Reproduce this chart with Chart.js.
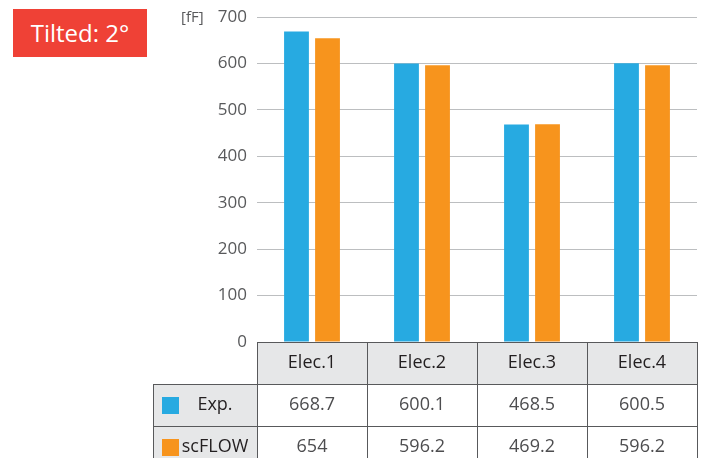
<!DOCTYPE html>
<html>
<head>
<meta charset="utf-8">
<script src="https://cdn.jsdelivr.net/npm/chart.js@4"></script>
<style>
  html, body { margin: 0; padding: 0; background: #fff; }
  #wrap { position: relative; width: 701px; height: 458px; overflow: hidden; }
  #badge {
    position: absolute; left: 13px; top: 9px; width: 134px; height: 48px;
    background: #ef4136; color: #fff; font: 24px "Open Sans", sans-serif;
    line-height: 48px; text-align: center;
  }
</style>
</head>
<body>
<div id="wrap">
  <canvas id="chart1" width="701" height="458"></canvas>
  <div id="badge">Tilted: 2°</div>
</div>
<script>
// =========================== data =================
const categories = ["Elec.1", "Elec.2", "Elec.3", "Elec.4"];
const expValues = [668.7, 600.1, 468.5, 600.5];
const flowValues = [654, 596.2, 469.2, 596.2];
const expLabels = ["668.7", "600.1", "468.5", "600.5"];
const flowLabels = ["654", "596.2", "469.2", "596.2"];
const seriesNames = ["Exp.", "scFLOW"];
const unitLabel = "[fF]";

const blue = "#27aae1";
const orange = "#f7941d";
const font = '"Open Sans", sans-serif';

// draws the data table under the plot + unit label
const tablePlugin = {
  id: "dataTable",
  afterDraw(chart) {
    const ctx = chart.ctx;
    const area = chart.chartArea;
    const x = chart.scales.x;
    const step = (area.right - area.left) / categories.length;
    const top = Math.round(area.bottom);
    const rowH = 42;
    const labLeft = 153;
    const bottom = top + rowH * 3;

    ctx.save();
    // header background
    ctx.fillStyle = "#e6e7e8";
    ctx.fillRect(area.left, top, area.right - area.left, rowH);
    // row label backgrounds
    ctx.fillRect(labLeft, top + rowH, area.left - labLeft, rowH * 2);

    // grid lines
    ctx.strokeStyle = "#58595b";
    ctx.lineWidth = 1;
    ctx.beginPath();
    ctx.moveTo(area.left, top + 0.5); ctx.lineTo(area.right, top + 0.5);
    ctx.moveTo(labLeft, top + rowH + 0.5); ctx.lineTo(area.right, top + rowH + 0.5);
    ctx.moveTo(labLeft, top + rowH * 2 + 0.5); ctx.lineTo(area.right, top + rowH * 2 + 0.5);
    ctx.moveTo(labLeft + 0.5, top + rowH); ctx.lineTo(labLeft + 0.5, bottom);
    for (let i = 0; i <= categories.length; i++) {
      const px = Math.round(area.left + i * step) + 0.5;
      ctx.moveTo(px, top); ctx.lineTo(px, bottom);
    }
    ctx.stroke();

    ctx.textAlign = "center";
    ctx.textBaseline = "middle";
    // header
    ctx.fillStyle = "#231f20";
    ctx.font = "18px " + font;
    categories.forEach((c, i) => {
      ctx.fillText(c, x.getPixelForValue(i), top + rowH / 2);
    });
    // values
    ctx.fillStyle = "#4d4d4f";
    const rows = [expLabels, flowLabels];
    rows.forEach((r, j) => {
      r.forEach((v, i) => {
        ctx.fillText(v, x.getPixelForValue(i), top + rowH * (j + 1) + rowH / 2);
      });
    });
    // row labels
    const colors = [blue, orange];
    seriesNames.forEach((n, j) => {
      const ry = top + rowH * (j + 1);
      ctx.fillStyle = colors[j];
      ctx.fillRect(162, ry + 13, 17, 17);
      ctx.fillStyle = "#231f20";
      ctx.fillText(n, 215, ry + rowH / 2);
    });

    // unit label
    ctx.fillStyle = "#58595b";
    ctx.font = "15px " + font;
    ctx.textAlign = "left";
    ctx.fillText(unitLabel, 181, chart.scales.y.getPixelForValue(700) + 1);
    ctx.restore();
  },
};

let chartEle1 = document.getElementById("chart1").getContext("2d");

let chart1 = new Chart(chartEle1, {
  type: "bar",
  data: {
    labels: categories,
    datasets: [
      {
        label: seriesNames[0],
        data: expValues,
        backgroundColor: blue,
      },
      {
        label: seriesNames[1],
        data: flowValues,
        backgroundColor: orange,
      },
    ],
  },
  options: {
    responsive: false,
    animation: false,
    layout: {
      padding: { top: 17, right: 4, bottom: 116, left: 0 },
    },
    datasets: {
      bar: { categoryPercentage: 0.564, barPercentage: 0.8 },
    },
    scales: {
      x: { display: false },
      y: {
        min: 0,
        max: 700,
        ticks: {
          stepSize: 100,
          color: "#58595b",
          padding: 10,
          font: { family: font, size: 17 },
        },
        grid: { color: "#bcbec0", lineWidth: 1, drawTicks: false },
        border: { display: false },
        afterFit(scale) {
          scale.width = 257;
          scale.paddingTop = 0;
          scale.paddingBottom = 0;
        },
      },
    },
    plugins: {
      legend: { display: false },
      tooltip: { enabled: false },
    },
  },
  plugins: [tablePlugin],
});
</script>
</body>
</html>
